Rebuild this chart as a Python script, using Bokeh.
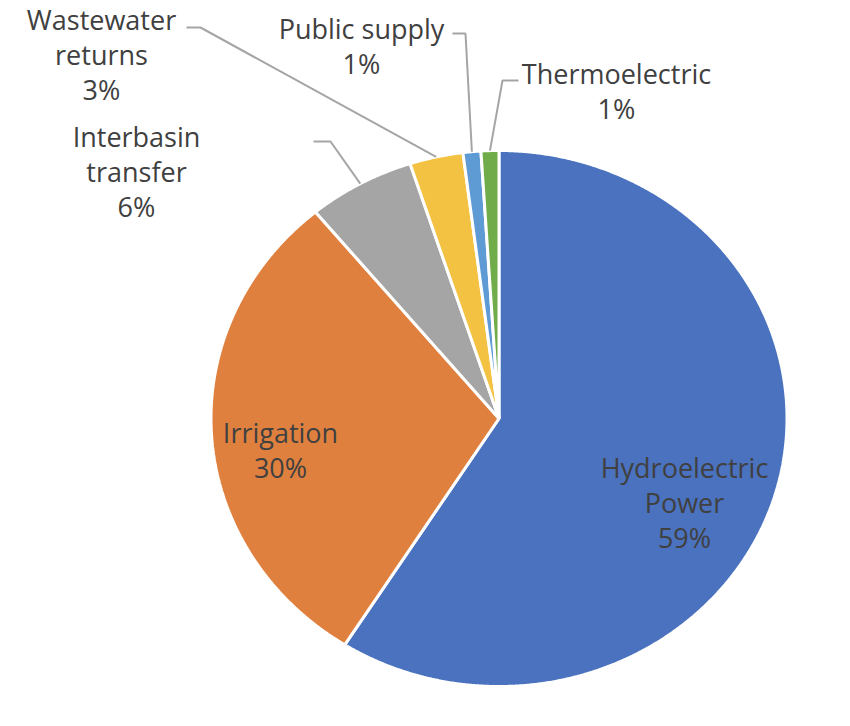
import numpy as np
from bokeh.plotting import figure
from bokeh.models import Range1d, ColumnDataSource
from bokeh.core.properties import value
from bokeh.embed import file_html
from bokeh.resources import INLINE

# ---- data ----
categories = ["Hydroelectric\nPower", "Irrigation", "Interbasin\ntransfer",
              "Wastewater\nreturns", "Public supply", "Thermoelectric"]
shares = [59, 30, 6, 3, 1, 1]
pct_labels = ["59%", "30%", "6%", "3%", "1%", "1%"]
colors = ["#4A72BF", "#E0803F", "#A5A5A5", "#F4C242", "#5E9BD4", "#71AC4A"]

# ---- layout (picture pixel space; y measured downward) ----
FW, FH = 834, 710
CX, CY = 498.5, 418.0
RX, RY = 288.0, 268.0
# label line-centre anchors (x, y of first line)
label_pos = [(684, 467), (280, 432), (136, 136), (101, 19), (361, 28), (616, 73)]
line_step = 35
# leader lines: (label-side start, elbow) for outside labels; None for inside
leader = [None, None, ((313, 141), (330, 141)), ((186, 27), (200, 27)),
          ((452, 33), (465, 33)), ((518, 80), (502, 80))]

def Y(y):
    return FH - y

p = figure(width=FW, height=FH, output_backend="svg", toolbar_location=None,
           x_range=Range1d(0, FW), y_range=Range1d(0, FH), min_border=0)
p.axis.visible = False
p.grid.visible = False
p.outline_line_color = None
p.background_fill_color = "white"
p.border_fill_color = "white"

total = float(sum(shares))
fr = np.cumsum([0] + shares) / total
xs, ys, mids = [], [], []
for i in range(len(shares)):
    a0, a1 = fr[i] * 2 * np.pi, fr[i + 1] * 2 * np.pi
    t = np.linspace(a0, a1, max(8, int((a1 - a0) * 200)))
    px = CX + RX * np.sin(t)
    py = CY - RY * np.cos(t)
    xs.append([CX] + list(px) + [CX])
    ys.append([Y(CY)] + list(Y(py)) + [Y(CY)])
    mids.append((a0 + a1) / 2)

src = ColumnDataSource(dict(xs=xs, ys=ys, color=colors))
p.patches("xs", "ys", fill_color="color", line_color="white", line_width=3, source=src)

# leader lines
for i, ld in enumerate(leader):
    if ld is None:
        continue
    m = mids[i]
    ex = CX + RX * np.sin(m)
    ey = CY - RY * np.cos(m)
    (sx, sy), (bx, by) = ld
    p.line([sx, bx, ex], [Y(sy), Y(by), Y(ey)], line_color="#A5A5A5", line_width=2)

# labels
tx, ty, tt = [], [], []
for i, name in enumerate(categories):
    lines = name.split("\n") + [pct_labels[i]]
    x0, y0 = label_pos[i]
    for k, ln in enumerate(lines):
        tx.append(x0)
        ty.append(Y(y0 + k * line_step))
        tt.append(ln)
p.text(tx, ty, text=tt, text_font=value("Open Sans"), text_font_size="27px",
       text_color="#404040", text_align="center", text_baseline="middle")

open("out.html", "w").write(file_html(p, INLINE))
